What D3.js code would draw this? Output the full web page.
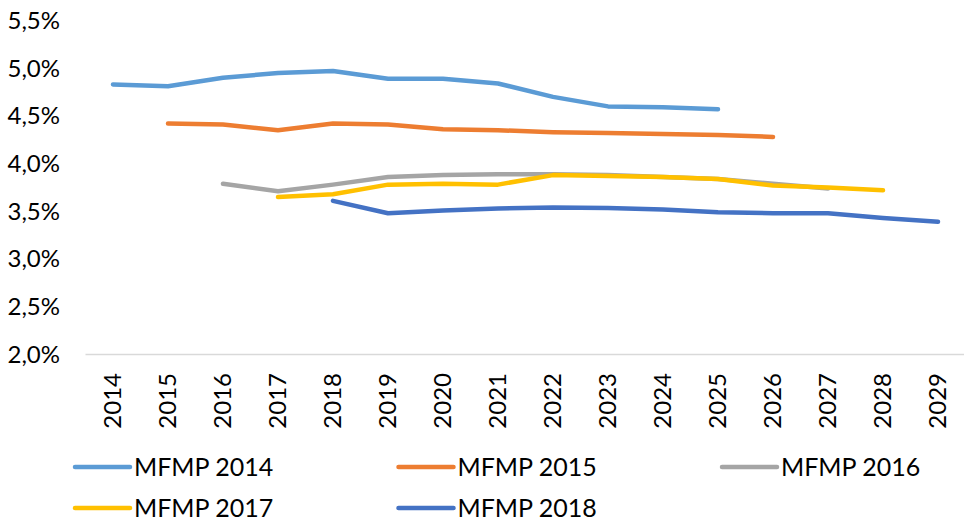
<!DOCTYPE html>
<html>
<head>
<meta charset="utf-8">
<script src="https://cdn.jsdelivr.net/npm/d3@7"></script>
<style>
  body { margin: 0; background: #fff; }
  svg { display: block; font-family: Lato, "Open Sans", sans-serif; }
</style>
</head>
<body>
<svg id="chart" width="964" height="525"></svg>
<script>
// years on the x axis
const years = ['2014','2015','2016','2017','2018','2019','2020','2021',
    '2022','2023','2024','2025','2026','2027','2028','2029'];

// each forecast, in %, null where the vintage has no value
const mfmp2014 = [4.83, 4.81, 4.90, 4.95, 4.97, 4.89, 4.89, 4.84, 4.70, 4.60, 4.59, 4.57, null, null, null, null];
const mfmp2015 = [null, 4.42, 4.41, 4.35, 4.42, 4.41, 4.36, 4.35, 4.33, 4.32, 4.31, 4.30, 4.28, null, null, null];
const mfmp2016 = [null, null, 3.79, 3.71, 3.78, 3.86, 3.88, 3.89, 3.89, 3.88, 3.86, 3.84, 3.79, 3.74, null, null];
const mfmp2017 = [null, null, null, 3.65, 3.68, 3.78, 3.79, 3.78, 3.88, 3.87, 3.86, 3.84, 3.77, 3.75, 3.72, null];
const mfmp2018 = [null, null, null, null, 3.61, 3.48, 3.51, 3.53, 3.54, 3.535, 3.52, 3.49, 3.48, 3.48, 3.43, 3.39];

const seriesNames = ['MFMP 2014','MFMP 2015','MFMP 2016','MFMP 2017','MFMP 2018'];
const seriesValues = [mfmp2014, mfmp2015, mfmp2016, mfmp2017, mfmp2018];
const colors = ['#5B9BD5','#ED7D31','#A5A5A5','#FFC000','#4472C4'];

const yTicks = [2.0, 2.5, 3.0, 3.5, 4.0, 4.5, 5.0, 5.5];

const svg = d3.select('#chart');

// point scale: padding .5 puts each year in the middle of its slot
const xScale = d3.scalePoint()
    .domain(years)
    .range([85.5, 965.5])
    .padding(0.5);

const yScale = d3.scaleLinear()
    .domain([2.0, 5.5])
    .range([354.5, 20.5]);

// y tick labels, comma as decimal separator
const fmt = d => d.toFixed(1).replace('.', ',') + '%';
svg.append('g')
    .selectAll('text')
    .data(yTicks)
    .enter().append('text')
    .attr('x', 60)
    .attr('y', d => yScale(d))
    .attr('dy', '0.35em')
    .attr('text-anchor', 'end')
    .style('font-size', '24px')
    .attr('fill', '#000')
    .text(fmt);

// baseline
svg.append('line')
    .attr('x1', 85.5).attr('x2', 964)
    .attr('y1', yScale(2.0)).attr('y2', yScale(2.0))
    .attr('stroke', '#D9D9D9')
    .attr('stroke-width', 1.5);

// rotated year labels
svg.append('g')
    .selectAll('text')
    .data(years)
    .enter().append('text')
    .attr('transform', d => `translate(${xScale(d)},373) rotate(-90)`)
    .attr('dy', '0.35em')
    .attr('text-anchor', 'end')
    .style('font-size', '24px')
    .attr('fill', '#000')
    .text(d => d);

// lines
const line = d3.line()
    .defined(d => d.v != null)
    .x(d => xScale(d.year))
    .y(d => yScale(d.v));

svg.append('g')
    .selectAll('path')
    .data(seriesValues.map((vals, i) => ({ name: seriesNames[i], pts: years.map((y, j) => ({ year: y, v: vals[j] })) })))
    .enter().append('path')
    .attr('d', d => line(d.pts))
    .attr('fill', 'none')
    .attr('stroke', (d, i) => colors[i])
    .attr('stroke-width', 4.5)
    .attr('stroke-linecap', 'round')
    .attr('stroke-linejoin', 'round');

// legend, three per row
const legend = svg.append('g')
    .selectAll('g')
    .data(seriesNames)
    .enter().append('g')
    .attr('transform', (d, i) => `translate(${75 + (i % 3) * 323.5},${467 + Math.floor(i / 3) * 41})`);

legend.append('line')
    .attr('x1', 0).attr('x2', 55)
    .attr('y1', 0).attr('y2', 0)
    .attr('stroke', (d, i) => colors[i])
    .attr('stroke-width', 4.5)
    .attr('stroke-linecap', 'round');

legend.append('text')
    .attr('x', 59)
    .attr('y', 0)
    .attr('dy', '0.35em')
    .style('font-size', '25px')
    .attr('fill', '#000')
    .text(d => d);
</script>
</body>
</html>
